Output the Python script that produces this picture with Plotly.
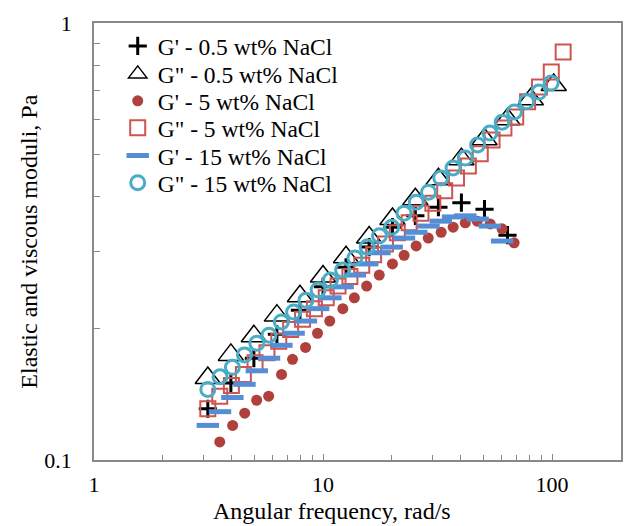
import plotly.graph_objects as go

# ---- data (angular frequency rad/s, moduli Pa) ----
w_coarse = [3.14, 3.96, 4.99, 6.29, 7.93, 10.0, 12.6, 15.9, 20.1, 25.3, 31.9, 40.2, 50.7, 63.9, 80.7, 101.7]

w_gp_05 = w_coarse[:14]
gp_05 = [0.131, 0.150, 0.171, 0.194, 0.220, 0.249, 0.276, 0.307, 0.341, 0.362, 0.379, 0.388, 0.375, 0.327]

w_gpp_05 = w_coarse
gpp_05 = [0.154, 0.174, 0.192, 0.214, 0.237, 0.263, 0.291, 0.323, 0.356, 0.395, 0.439, 0.488, 0.542, 0.602, 0.669, 0.721]

w_gp_5 = [3.54, 4.03, 4.55, 5.13, 5.79, 6.59, 7.36, 8.39, 9.46, 10.7, 12.2, 13.7, 15.5,
          17.6, 20.1, 22.6, 25.5, 28.8, 32.8, 37.0, 41.8, 47.1, 53.7, 60.5, 68.3]
gp_5 = [0.110, 0.120, 0.128, 0.137, 0.140, 0.157, 0.170, 0.181, 0.195, 0.208, 0.222, 0.235, 0.250,
        0.265, 0.281, 0.294, 0.309, 0.322, 0.332, 0.341, 0.349, 0.352, 0.347, 0.338, 0.314]

w_gpp_5 = [3.14, 3.54, 3.98, 4.49, 5.05, 5.69, 6.41, 7.22, 8.14, 9.17, 10.33, 11.63, 13.10, 14.76,
           16.63, 18.73, 21.10, 23.77, 26.77, 30.16, 33.98, 38.27, 43.11, 48.58, 54.70, 61.63,
           69.41, 78.19, 88.10, 99.22, 111.8]
gpp_5 = [0.131, 0.140, 0.148, 0.157, 0.167, 0.176, 0.187, 0.199, 0.210, 0.222, 0.235, 0.250, 0.263,
         0.279, 0.295, 0.312, 0.331, 0.349, 0.367, 0.387, 0.413, 0.442, 0.471, 0.502, 0.540, 0.575,
         0.609, 0.660, 0.714, 0.772, 0.858]

w_fine = [3.14, 3.55, 4.02, 4.54, 5.14, 5.81, 6.58, 7.44, 8.42, 9.52, 10.77, 12.18, 13.78, 15.59,
          17.64, 19.95, 22.57, 25.53, 28.88, 32.67, 36.96, 41.81, 47.30, 53.51, 60.53, 68.48,
          77.45, 87.62, 99.1]

w_gp_15 = w_fine[:25]
gp_15 = [0.120, 0.129, 0.139, 0.149, 0.160, 0.171, 0.183, 0.195, 0.208, 0.222, 0.235, 0.249, 0.265,
         0.281, 0.298, 0.307, 0.322, 0.332, 0.343, 0.352, 0.360, 0.362, 0.356, 0.343, 0.317]

w_gpp_15 = w_fine
gpp_15 = [0.145, 0.155, 0.163, 0.174, 0.185, 0.193, 0.207, 0.218, 0.232, 0.245, 0.258, 0.272, 0.290,
          0.307, 0.326, 0.341, 0.367, 0.389, 0.410, 0.442, 0.466, 0.491, 0.526, 0.560, 0.593, 0.626,
          0.660, 0.695, 0.729]

names = ["G' - 0.5 wt% NaCl", 'G" - 0.5 wt% NaCl', "G' - 5 wt% NaCl",
         'G" - 5 wt% NaCl', "G' - 15 wt% NaCl", 'G" - 15 wt% NaCl']

FONT = "Liberation Serif"
legend_ids = ["legend", "legend2", "legend3", "legend4", "legend5", "legend6"]
legend_rows_y = [0.947, 0.883, 0.8215, 0.760, 0.696, 0.634]

fig = go.Figure()

fig.add_trace(go.Scatter(x=w_gp_05, y=gp_05, mode="markers", name=names[0], legend=legend_ids[0],
    marker=dict(symbol="cross-thin", size=13, line=dict(color="black", width=3))))
fig.add_trace(go.Scatter(x=w_gpp_05, y=gpp_05, mode="markers", name=names[1], legend=legend_ids[1],
    marker=dict(symbol="triangle-up-open", size=22, color="black", line=dict(color="black", width=1.5))))
fig.add_trace(go.Scatter(x=w_gp_5, y=gp_5, mode="markers", name=names[2], legend=legend_ids[2],
    marker=dict(symbol="circle", size=11, color="#B0403C", line=dict(width=0))))
fig.add_trace(go.Scatter(x=w_gpp_5, y=gpp_5, mode="markers", name=names[3], legend=legend_ids[3],
    marker=dict(symbol="square-open", size=15, color="#CC5552", line=dict(color="#CC5552", width=2))))
fig.add_trace(go.Scatter(x=w_gp_15, y=gp_15, mode="markers", name=names[4], legend=legend_ids[4],
    marker=dict(symbol="line-ew", size=16, line=dict(color="#558ED5", width=5))))
fig.add_trace(go.Scatter(x=w_gpp_15, y=gpp_15, mode="markers", name=names[5], legend=legend_ids[5],
    marker=dict(symbol="circle-open", size=14, color="#4BACC6", line=dict(color="#4BACC6", width=3))))

axis_common = dict(type="log", showgrid=False, zeroline=False, showline=True,
                   linecolor="#898989", linewidth=1.5, mirror=True,
                   ticks="inside", tickcolor="#898989", tickwidth=1,
                   tickfont=dict(family=FONT, size=22, color="black"))

fig.update_xaxes(**axis_common, range=[0, 2.30103], tickvals=[1, 10, 100], ticktext=["1", "10", "100"],
                 ticklen=6, ticklabelstandoff=4,
                 minor=dict(ticks="inside", ticklen=5, tickcolor="#898989",
                            tickvals=[2, 3, 4, 5, 6, 7, 8, 9, 20, 30, 40, 50, 60, 70, 80, 90]))
fig.update_yaxes(**axis_common, range=[-1, 0], tickvals=[0.1, 1], ticktext=["0.1", "1"],
                 ticklen=6, ticklabelstandoff=16,
                 minor=dict(ticks="inside", ticklen=6, tickcolor="#898989",
                            tickvals=[0.2, 0.3, 0.4, 0.5, 0.6, 0.7, 0.8, 0.9]))

legend_layout = {}
for lid, ly in zip(legend_ids, legend_rows_y):
    legend_layout[lid] = dict(x=0.045, y=ly, xanchor="left", yanchor="middle",
                              bgcolor="rgba(0,0,0,0)", borderwidth=0,
                              font=dict(family=FONT, size=23.5, color="black"))

fig.update_layout(
    width=634, height=526,
    margin=dict(l=94, r=11, t=23, b=66),
    paper_bgcolor="white", plot_bgcolor="white",
    font=dict(family=FONT, size=22, color="black"),
    showlegend=True,
    annotations=[
        dict(text="Angular frequency, rad/s", xref="paper", yref="paper",
             x=0.452, y=-0.117, xanchor="center", yanchor="middle", showarrow=False,
             font=dict(family=FONT, size=24, color="black")),
        dict(text="Elastic and viscous moduli, Pa", xref="paper", yref="paper",
             x=-0.125, y=0.5, xanchor="center", yanchor="middle", showarrow=False, textangle=-90,
             font=dict(family=FONT, size=24, color="black")),
    ],
    **legend_layout,
)

fig.write_html("out.html")
